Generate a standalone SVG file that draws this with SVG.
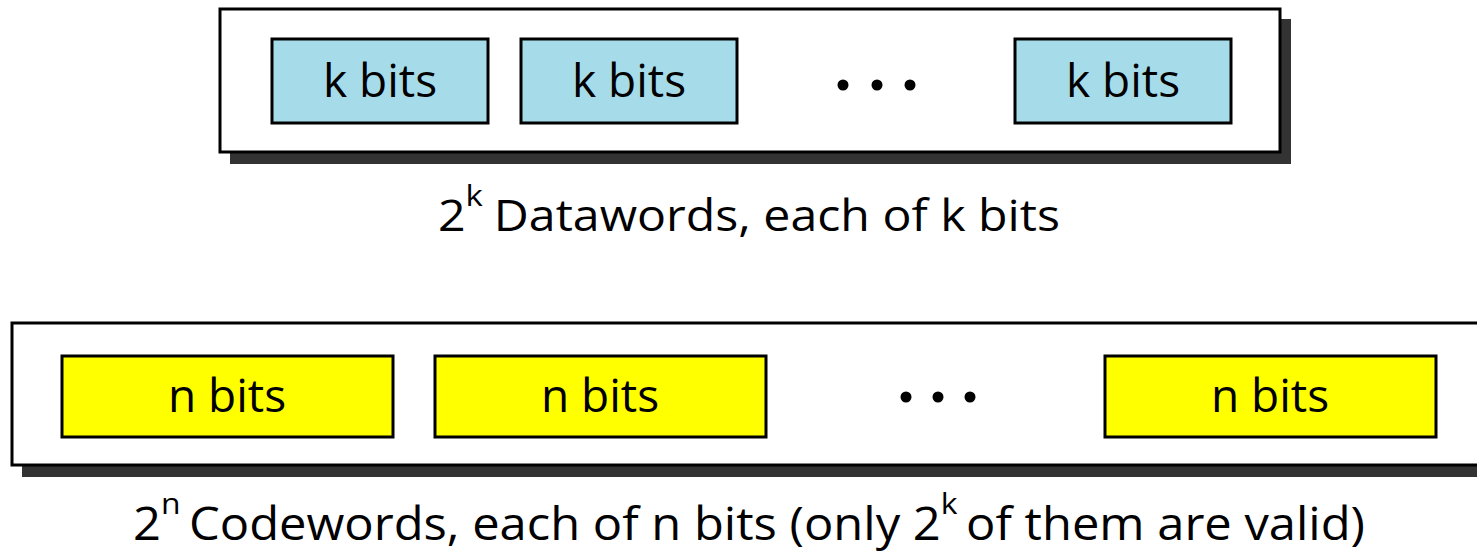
<svg xmlns="http://www.w3.org/2000/svg" width="1477" height="553" viewBox="0 0 1477 553">
<style>
.shadow{fill:#333333}
.outer{fill:#ffffff;stroke:#000000;stroke-width:3}
.kbox{fill:#a6dcea;stroke:#000000;stroke-width:3}
.nbox{fill:#ffff00;stroke:#000000;stroke-width:3}
.lbl{font-family:"Open Sans","Liberation Sans",sans-serif;font-size:46px;fill:#000000;text-anchor:middle}
.cap{font-family:"Open Sans","Liberation Sans",sans-serif;font-size:44px;fill:#000000}
.cap2{font-family:"Open Sans","Liberation Sans",sans-serif;font-size:46px;fill:#000000}
.sup{font-size:30px}
.dot{fill:#000000}
</style>
<rect width="1477" height="553" fill="#ffffff"/>
<g id="datawords">
<rect class="shadow" x="230" y="19" width="1061" height="145"/>
<rect class="outer" x="220" y="9" width="1060" height="143"/>
</g>
<g id="k1"><rect class="kbox" x="272" y="39" width="216" height="84"/><text class="lbl" x="380" y="97">k bits</text></g>
<g id="k2"><rect class="kbox" x="521" y="39" width="216" height="84"/><text class="lbl" x="629" y="97">k bits</text></g>
<g id="kdots"><circle class="dot" cx="843" cy="85" r="5.5"/><circle class="dot" cx="877" cy="85" r="5.5"/><circle class="dot" cx="910" cy="85" r="5.5"/></g>
<g id="k3"><rect class="kbox" x="1015" y="39" width="216" height="84"/><text class="lbl" x="1123" y="97">k bits</text></g>
<g id="cap1"><text class="cap" x="438" y="231" textLength="622" lengthAdjust="spacingAndGlyphs">2<tspan class="sup" dy="-25">k</tspan><tspan dy="25" dx="10">Datawords, each of k bits</tspan></text></g>
<g id="codewords">
<rect class="shadow" x="22" y="333" width="1470" height="144"/>
<rect class="outer" x="12" y="323" width="1480" height="142"/>
</g>
<g id="n1"><rect class="nbox" x="62" y="356" width="331" height="81"/><text class="lbl" x="227" y="412">n bits</text></g>
<g id="n2"><rect class="nbox" x="435" y="356" width="331" height="81"/><text class="lbl" x="600" y="412">n bits</text></g>
<g id="ndots"><circle class="dot" cx="906" cy="397" r="5.5"/><circle class="dot" cx="938" cy="397" r="5.5"/><circle class="dot" cx="970" cy="397" r="5.5"/></g>
<g id="n3"><rect class="nbox" x="1105" y="356" width="331" height="81"/><text class="lbl" x="1270" y="412">n bits</text></g>
<g id="cap2"><text class="cap2" x="133" y="540" textLength="1232" lengthAdjust="spacingAndGlyphs">2<tspan class="sup" dy="-26">n</tspan><tspan dy="26" dx="8">Codewords, each of n bits (only 2</tspan><tspan class="sup" dy="-26">k</tspan><tspan dy="26" dx="8">of them are valid)</tspan></text></g>
<g id="connectors"/>
</svg>
